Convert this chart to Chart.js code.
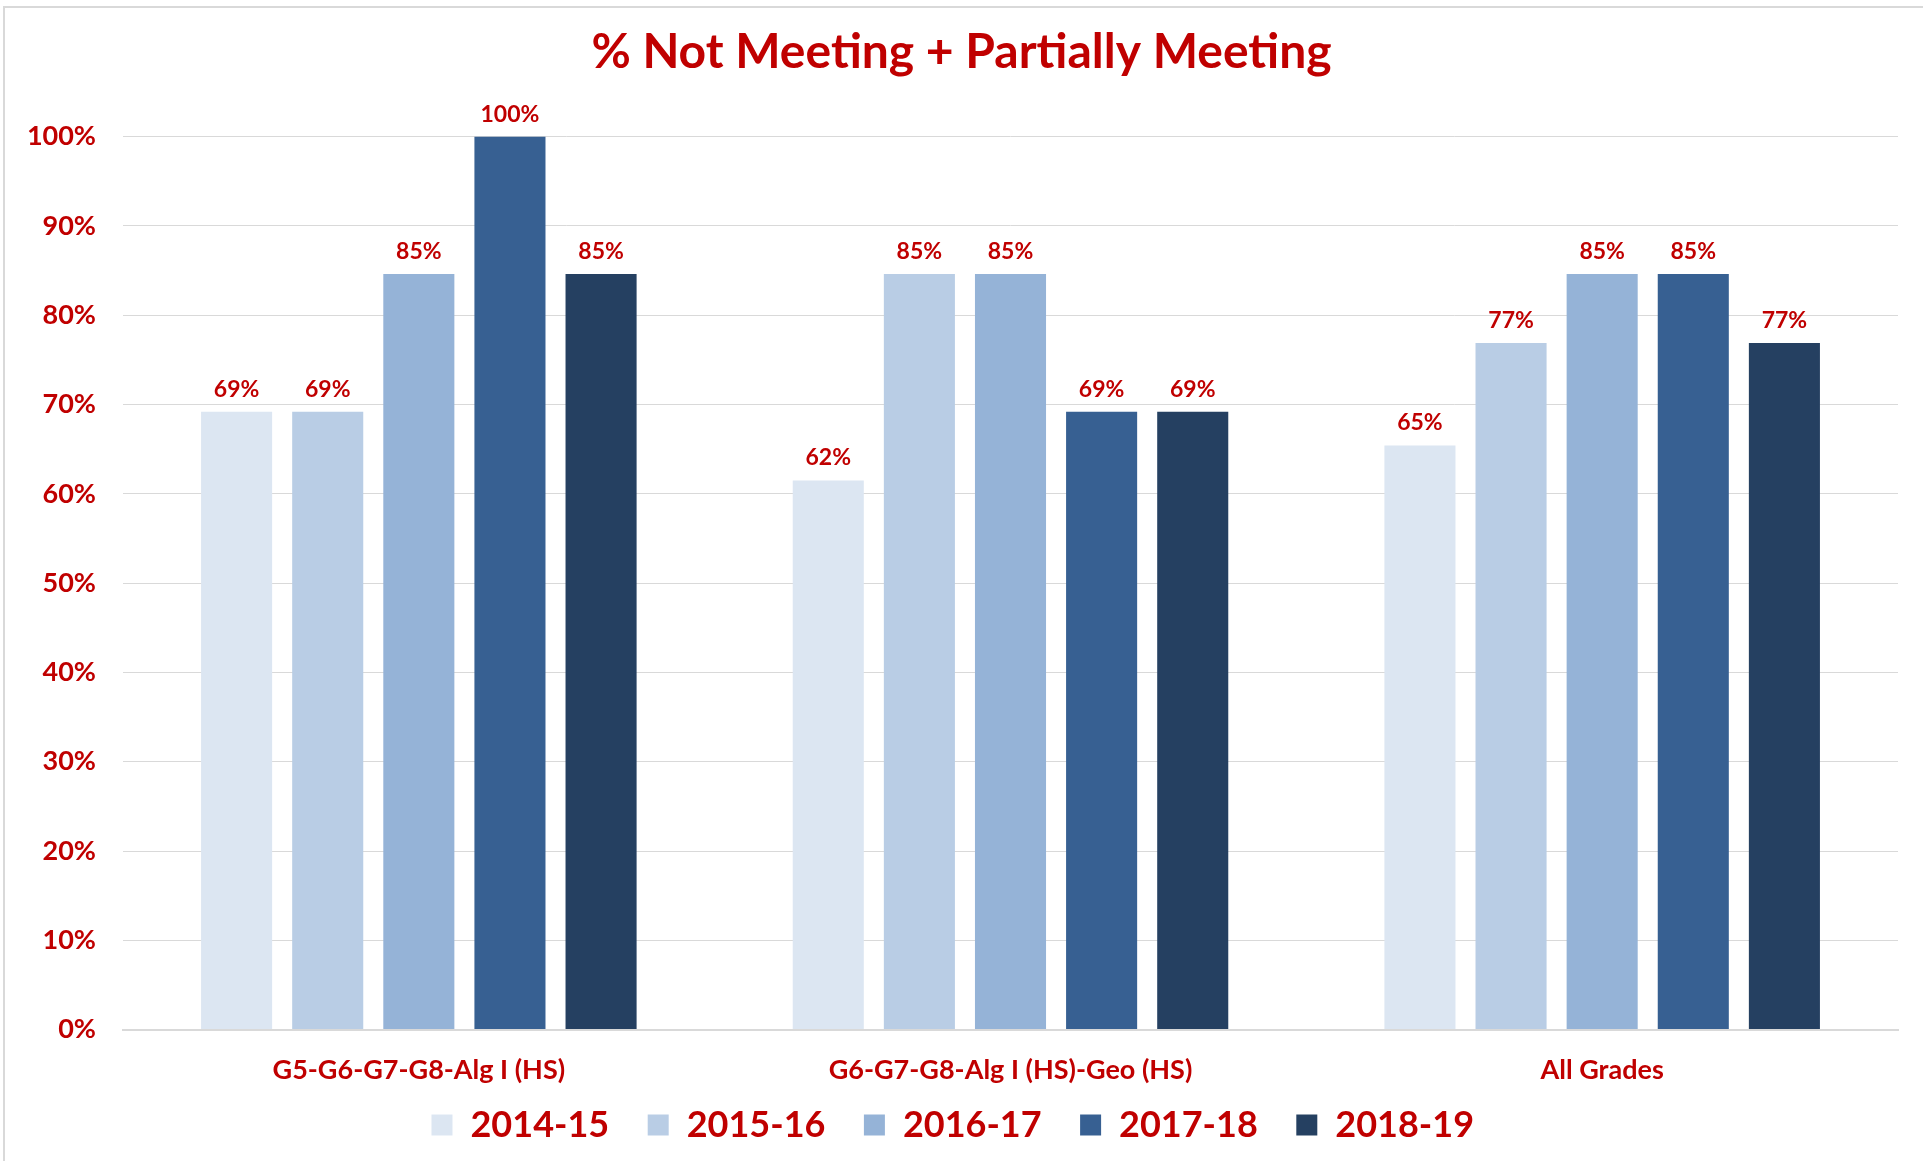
<!DOCTYPE html>
<html>
<head>
<meta charset="utf-8">
<script src="https://cdn.jsdelivr.net/npm/chart.js@4.4.1/dist/chart.umd.min.js"></script>
<style>
  html, body { margin: 0; padding: 0; background: #fff; }
  canvas { display: block; }
</style>
</head>
<body>
<canvas id="chart" width="1923" height="1161"></canvas>
<script>
const categories = ["G5-G6-G7-G8-Alg I (HS)", "G6-G7-G8-Alg I (HS)-Geo (HS)", "All Grades"];
const years = ["2014-15", "2015-16", "2016-17", "2017-18", "2018-19"];
const values2014 = [0.692, 0.615, 0.654];
const values2015 = [0.692, 0.846, 0.769];
const values2016 = [0.846, 0.846, 0.846];
const values2017 = [1.0, 0.692, 0.846];
const values2018 = [0.846, 0.692, 0.769];
const barColors = ["#DCE6F2", "#B9CDE5", "#95B3D7", "#376092", "#254061"];
const red = "#C00000";
const fontName = "Lato, 'Open Sans', sans-serif";

const seriesValues = [values2014, values2015, values2016, values2017, values2018];

// labels on top of each bar
const barLabels = {
  id: "barLabels",
  afterDatasetsDraw(chart) {
    const ctx = chart.ctx;
    ctx.save();
    ctx.fillStyle = red;
    ctx.font = "bold 23px " + fontName;
    ctx.textAlign = "center";
    ctx.textBaseline = "bottom";
    chart.data.datasets.forEach(function (ds, i) {
      const meta = chart.getDatasetMeta(i);
      meta.data.forEach(function (bar, j) {
        ctx.fillText(Math.round(ds.data[j] * 100) + "%", bar.x, bar.y - 11);
      });
    });
    ctx.restore();
  }
};

const frame = {
  id: "frame",
  beforeDraw(chart) {
    const ctx = chart.ctx;
    ctx.save();
    ctx.fillStyle = "#fff";
    ctx.fillRect(0, 0, chart.width, chart.height);
    ctx.strokeStyle = "#D9D9D9";
    ctx.lineWidth = 2;
    ctx.strokeRect(4, 7, chart.width, chart.height);
    ctx.restore();
  }
};

new Chart(document.getElementById("chart").getContext("2d"), {
  type: "bar",
  data: {
    labels: categories,
    datasets: years.map(function (y, i) {
      return {
        label: y,
        data: seriesValues[i],
        backgroundColor: barColors[i],
        borderWidth: 0,
        categoryPercentage: 0.77,
        barPercentage: 0.78
      };
    })
  },
  options: {
    responsive: false,
    animation: false,
    layout: { padding: { left: 25, right: 25, top: 10, bottom: 8 } },
    plugins: {
      title: {
        display: true,
        text: "% Not Meeting + Partially Meeting",
        color: red,
        font: { family: fontName, size: 48, weight: "bold" },
        padding: { top: 14, bottom: 55 }
      },
      legend: {
        position: "bottom",
        labels: {
          color: red,
          font: { family: fontName, size: 36, weight: "bold" },
          boxWidth: 21,
          boxHeight: 21,
          padding: 21,
          generateLabels: function (chart) {
            const items = Chart.defaults.plugins.legend.labels.generateLabels(chart);
            items.forEach(function (it) { it.text = it.text + "  "; });
            return items;
          }
        }
      },
      tooltip: { enabled: false }
    },
    scales: {
      x: {
        grid: { display: false, drawTicks: false },
        border: { color: "#D9D9D9", width: 2 },
        ticks: {
          color: red,
          font: { family: fontName, size: 27, weight: "bold" },
          padding: 24
        },
        afterFit: function (scale) { scale.height = scale.height - 24; }
      },
      y: {
        min: 0,
        max: 1,
        grid: { color: "#D9D9D9", drawTicks: false },
        border: { display: false },
        ticks: {
          stepSize: 0.1,
          color: red,
          padding: 27,
          font: { family: fontName, size: 27, weight: "bold" },
          callback: function (v) { return Math.round(v * 100) + "%"; }
        },
        afterFit: function (scale) { scale.width = 98; }
      }
    }
  },
  plugins: [frame, barLabels]
});
</script>
</body>
</html>
